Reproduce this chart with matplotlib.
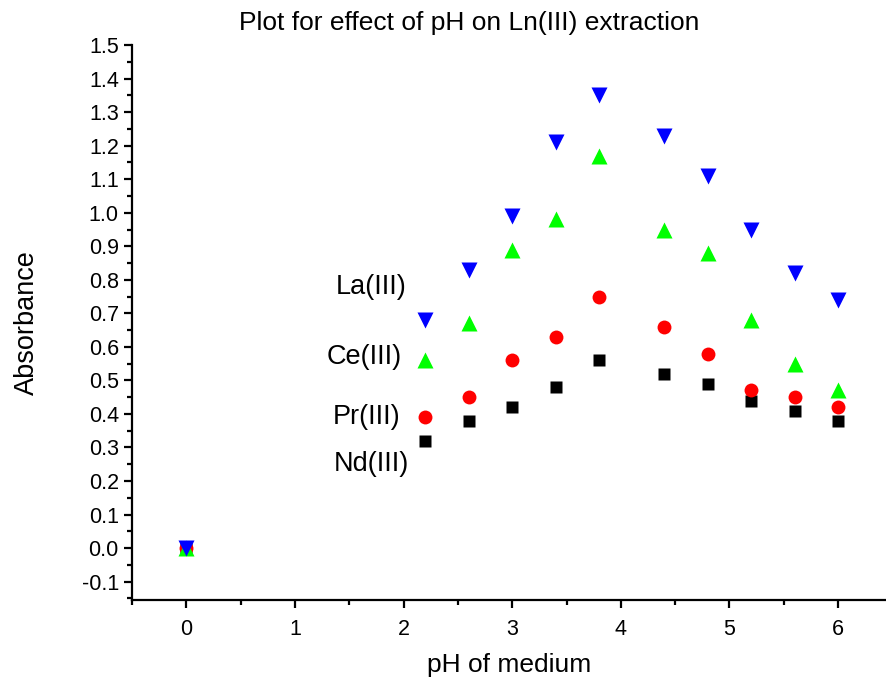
import matplotlib.pyplot as plt
from matplotlib.ticker import MultipleLocator

plt.rcParams['font.family'] = ['Liberation Sans', 'DejaVu Sans']

# pH values
ph = [0, 2.2, 2.6, 3.0, 3.4, 3.8, 4.4, 4.8, 5.2, 5.6, 6.0]

# absorbance per lanthanide
la = [0, 0.68, 0.83, 0.99, 1.21, 1.35, 1.23, 1.11, 0.95, 0.82, 0.74]
ce = [0, 0.56, 0.67, 0.89, 0.98, 1.17, 0.95, 0.88, 0.68, 0.55, 0.47]
pr = [0, 0.39, 0.45, 0.56, 0.63, 0.75, 0.66, 0.58, 0.47, 0.45, 0.42]
nd = [0, 0.32, 0.38, 0.42, 0.48, 0.56, 0.52, 0.49, 0.44, 0.41, 0.38]

labels = ["La(III)", "Ce(III)", "Pr(III)", "Nd(III)"]
label_pos = [(1.70, 0.78), (1.64, 0.57), (1.66, 0.39), (1.70, 0.25)]

fig = plt.figure(figsize=(8.87, 6.84), dpi=100)
ax = fig.add_axes([0.1488, 0.1228, 0.8512, 0.8112])

ax.plot(ph, nd, 's', color='black', ms=8.5, mec='none')
ax.plot(ph, pr, 'o', color='red', ms=10, mec='none')
ax.plot(ph, ce, '^', color='#00ff00', ms=11, mec='none')
ax.plot(ph, la, 'v', color='blue', ms=11, mec='none')

for txt, (x, y) in zip(labels, label_pos):
    ax.text(x, y, txt, ha='center', va='center', fontsize=19.5)

ax.set_xlim(-0.5, 6.45)
ax.set_ylim(-0.155, 1.5)
ax.xaxis.set_major_locator(MultipleLocator(1))
ax.xaxis.set_minor_locator(MultipleLocator(0.5))
ax.yaxis.set_major_locator(MultipleLocator(0.1))
ax.yaxis.set_minor_locator(MultipleLocator(0.05))
ax.yaxis.set_major_formatter(plt.FuncFormatter(lambda v, p: f"{v:.1f}".replace("-0.0", "0.0")))

for s in ['top', 'right']:
    ax.spines[s].set_visible(False)
for s in ['left', 'bottom']:
    ax.spines[s].set_linewidth(1.6)
ax.tick_params(which='major', length=6, width=1.6, labelsize=15.5)
ax.tick_params(which='minor', length=3.5, width=1.6)
ax.tick_params(axis='x', pad=8)

ax.set_xlabel("pH of medium", fontsize=19, labelpad=9)
ax.set_ylabel("Absorbance", fontsize=19.5, labelpad=30)
fig.text(0.529, 0.966, "Plot for effect of pH on Ln(III) extraction",
         ha='center', va='center', fontsize=19)

fig.savefig("out.png", dpi=100)
